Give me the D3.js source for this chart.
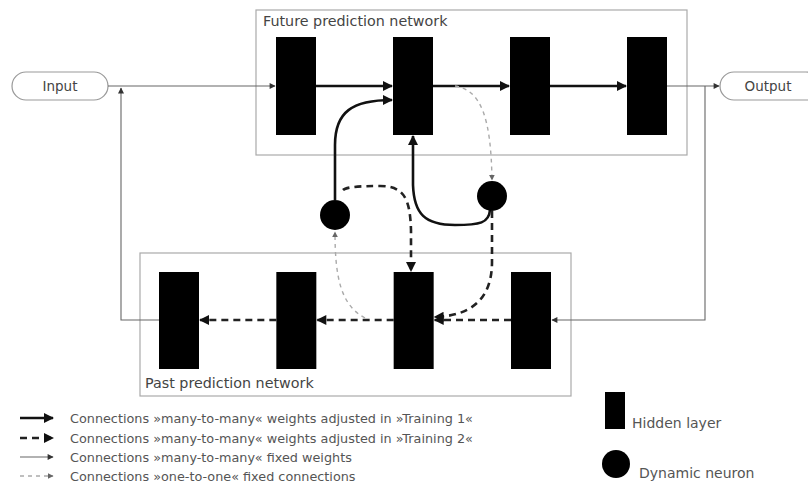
<!DOCTYPE html>
<html><head><meta charset="utf-8">
<script src="https://cdn.jsdelivr.net/npm/d3@7"></script>
<style>body{margin:0;background:#fff}svg{display:block;font-family:"DejaVu Sans",Arial,sans-serif}</style>
</head><body><svg id="c" width="808" height="486"></svg>
<script>
// ---- data ----
const topLayers = [0, 1, 2, 3];          // future prediction network hidden layers
const bottomLayers = [0, 1, 2, 3];       // past prediction network hidden layers
const networkTitles = ["Future prediction network", "Past prediction network"];
const ioLabels = ["Input", "Output"];
const legendLines = [
  {label: "Connections \u00bbmany-to-many\u00ab weights adjusted in \u00bbTraining 1\u00ab", type: "t1"},
  {label: "Connections \u00bbmany-to-many\u00ab weights adjusted in \u00bbTraining 2\u00ab", type: "t2"},
  {label: "Connections \u00bbmany-to-many\u00ab fixed weights", type: "fixed"},
  {label: "Connections \u00bbone-to-one\u00ab fixed connections", type: "one"}
];
const legendShapes = ["Hidden layer", "Dynamic neuron"];

// ---- layout ----
const svg = d3.select("#c");
const xt = d3.scaleLinear().domain([0, 3]).range([276, 627]);   // top layer block left edge
const xb = d3.scaleLinear().domain([0, 3]).range([159, 511]);   // bottom layer block left edge
const lw = 40;
const topY = 37, topH = 98, topMid = 86;
const botY = 272, botH = 97, botMid = 320;

const defs = svg.append("defs");
function marker(id, color, w, h) {
  defs.append("marker").attr("id", id).attr("viewBox", "0 0 10 10")
    .attr("refX", 9).attr("refY", 5).attr("markerWidth", w).attr("markerHeight", h)
    .attr("markerUnits", "userSpaceOnUse").attr("orient", "auto")
    .append("path").attr("d", "M0,0L10,5L0,10z").attr("fill", color);
}
marker("aThick", "#111", 11, 10);
marker("aThin", "#333", 7, 6);
marker("aLight", "#666", 6, 6);

const styles = {
  t1: {stroke: "#111", w: 2.6, dash: null, m: "aThick"},
  t2: {stroke: "#222", w: 2.6, dash: "7,5", m: "aThick"},
  fixed: {stroke: "#666", w: 1.1, dash: null, m: "aThin"},
  one: {stroke: "#aaa", w: 1.4, dash: "4,4", m: "aLight"}
};
function link(d, type, g) {
  const s = styles[type];
  return (g || svg).append("path").attr("d", d).attr("fill", "none")
    .attr("stroke", s.stroke).attr("stroke-width", s.w)
    .attr("stroke-dasharray", s.dash).attr("marker-end", "url(#" + s.m + ")");
}

// network boxes
svg.append("rect").attr("x", 256).attr("y", 10).attr("width", 431).attr("height", 145)
  .attr("fill", "none").attr("stroke", "#aaa").attr("stroke-width", 1.2);
svg.append("rect").attr("x", 140).attr("y", 253).attr("width", 431).attr("height", 143)
  .attr("fill", "none").attr("stroke", "#aaa").attr("stroke-width", 1.2);
svg.append("text").attr("x", 263).attr("y", 26).attr("font-size", 14.3).attr("fill", "#444").text(networkTitles[0]);
svg.append("text").attr("x", 145).attr("y", 388).attr("font-size", 14.3).attr("fill", "#444").text(networkTitles[1]);

// io pills
const pills = [{label: ioLabels[0], x: 12, w: 96, tx: 60}, {label: ioLabels[1], x: 720, w: 100, tx: 768}];
pills.forEach(p => {
  svg.append("rect").attr("x", p.x).attr("y", 72).attr("width", p.w).attr("height", 28)
    .attr("rx", 14).attr("fill", "#fff").attr("stroke", "#999").attr("stroke-width", 1.2);
  svg.append("text").attr("x", p.tx).attr("y", 91).attr("text-anchor", "middle")
    .attr("font-size", 13.5).attr("fill", "#444").text(p.label);
});

// fixed connections (thin)
link(`M108,${topMid}H${xt(0) - 1}`, "fixed");
link(`M${xt(3) + lw},${topMid}H${719}`, "fixed");
link(`M705,${topMid}V${botMid}H${xb(3) + lw + 1}`, "fixed");
link(`M${xb(0)},${botMid}H121V${topMid + 2}`, "fixed");

// training 1 top chain
topLayers.slice(0, -1).forEach(i => link(`M${xt(i) + lw},${topMid}H${xt(i + 1) - 1}`, "t1"));
// training 2 bottom chain (right to left)
bottomLayers.slice(1).forEach(i => link(`M${xb(i)},${botMid}H${xb(i - 1) + lw + 1}`, "t2"));

// dynamic neurons
const nL = {x: 335, y: 215}, nR = {x: 492, y: 196}, r = 15;

// one-to-one fixed
link(`M455,${topMid} C482,90 491,120 ${nR.x},${nR.y - r - 1}`, "one");
link(`M365,${botMid - 2} C340,305 ${nL.x},275 ${nL.x},${nL.y + r + 2}`, "one");

// training 1 curves
link(`M${nL.x},${nL.y - r} V145 C${nL.x},112 352,100 ${xt(1) - 1},100`, "t1");
link(`M${nR.x - 2},${nR.y + r - 1} C489,223 480,225 455,225 C425,225 414,214 413,185 V${topY + topH + 1}`, "t1");

// training 2 curves
link(`M343,190 C346,187 360,186 380,186 C405,186 410,200 411,230 V${botY - 1}`, "t2");
link(`M${nR.x},${nR.y + r} V262 C${nR.x},300 470,316 ${xb(2) + lw + 1},317`, "t2");

// hidden layer blocks
svg.selectAll("rect.top").data(topLayers).join("rect").attr("class", "top")
  .attr("x", d => xt(d)).attr("y", topY).attr("width", lw).attr("height", topH).attr("fill", "#000");
svg.selectAll("rect.bot").data(bottomLayers).join("rect").attr("class", "bot")
  .attr("x", d => xb(d)).attr("y", botY).attr("width", lw).attr("height", botH).attr("fill", "#000");
// neurons
svg.selectAll("circle.n").data([nL, nR]).join("circle").attr("class", "n")
  .attr("cx", d => d.x).attr("cy", d => d.y).attr("r", r).attr("fill", "#000");

// legend
const lg = svg.append("g");
const ly = [418, 438, 457, 476];
legendLines.forEach((d, i) => {
  link(`M20,${ly[i]}H53`, d.type, lg);
  lg.append("text").attr("x", 70).attr("y", ly[i] + 5).attr("font-size", 12.8)
    .attr("fill", "#555").text(d.label);
});
lg.append("rect").attr("x", 605).attr("y", 392).attr("width", 20).attr("height", 37).attr("fill", "#000");
lg.append("text").attr("x", 632).attr("y", 428).attr("font-size", 14).attr("fill", "#555").text(legendShapes[0]);
lg.append("circle").attr("cx", 616).attr("cy", 464).attr("r", 14).attr("fill", "#000");
lg.append("text").attr("x", 639).attr("y", 478).attr("font-size", 14).attr("fill", "#555").text(legendShapes[1]);
</script></body></html>
